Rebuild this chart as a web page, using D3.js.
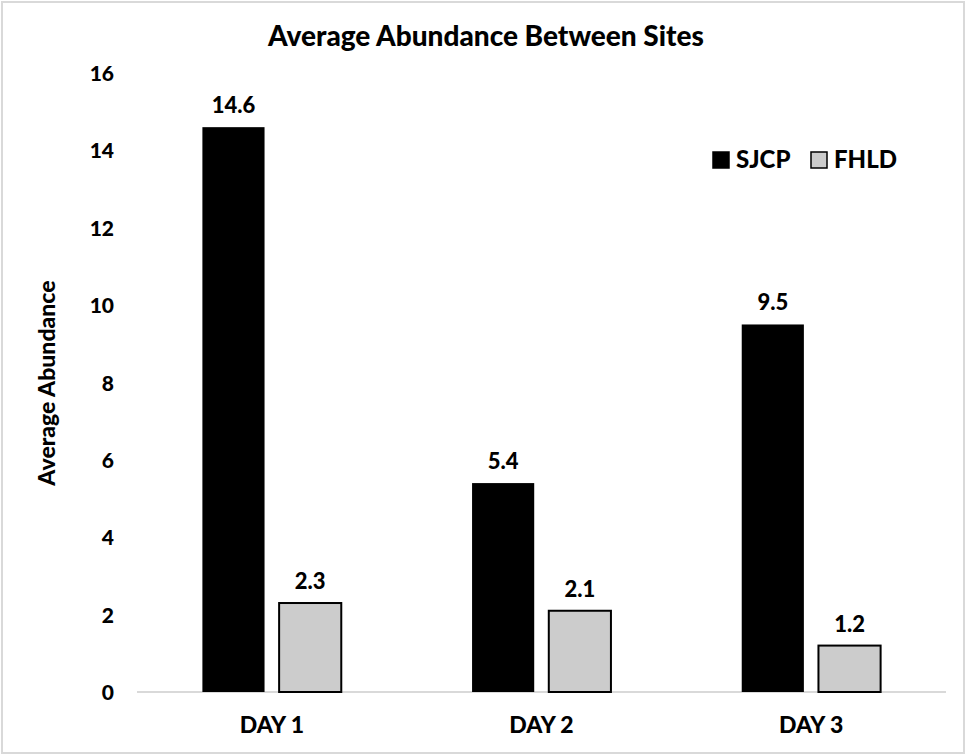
<!DOCTYPE html>
<html>
<head>
<meta charset="utf-8">
<script src="https://cdn.jsdelivr.net/npm/d3@7"></script>
<style>
  html, body { margin: 0; padding: 0; background: #fff; }
  svg text { font-family: Lato, "Open Sans", sans-serif; font-weight: 900; fill: #000; }
</style>
</head>
<body>
<svg id="chart" width="966" height="755"></svg>
<script>
// Average abundance per day at each site
const days = ["DAY 1", "DAY 2", "DAY 3"];
const sites = ["SJCP", "FHLD"];
const sjcp = [14.6, 5.4, 9.5];
const fhld = [2.3, 2.1, 1.2];
const yTicks = [0, 2, 4, 6, 8, 10, 12, 14, 16];

const fills = { SJCP: "#000000", FHLD: "#cccccc" };
const values = { SJCP: sjcp, FHLD: fhld };
const FONT = "Lato, 'Open Sans', sans-serif";
const WEIGHT = "900";

const svg = d3.select("#chart");
const W = 966, H = 755;

// chart frame
svg.append("rect")
  .attr("x", 2).attr("y", 2).attr("width", W - 4).attr("height", H - 4)
  .attr("fill", "#fff").attr("stroke", "#d9d9d9").attr("stroke-width", 2);

const plot = { left: 137, right: 946, top: 73, bottom: 692 };

const x0 = d3.scaleBand().domain(days).range([plot.left, plot.right]).paddingInner(0.485).paddingOuter(0.2425);
const x1 = d3.scaleBand().domain(sites).range([0, x0.bandwidth()]).paddingInner(0.19);
const y = d3.scaleLinear().domain([0, 16]).range([plot.bottom, plot.top]);

// title
svg.append("text")
  .attr("x", 486).attr("y", 46)
  .attr("text-anchor", "middle")
  .style("font-size", "28px")
  .text("Average Abundance Between Sites");

// y axis labels
const yAxis = d3.axisLeft(y).tickValues(yTicks).tickFormat(d3.format("d")).tickSize(0).tickPadding(0);
const gy = svg.append("g").attr("transform", `translate(114,0)`).call(yAxis);
gy.select(".domain").remove();
gy.selectAll("text")
  .attr("dy", "0.36em")
  .style("font-size", "21px")
  .style("font-family", FONT)
  .style("font-weight", WEIGHT)
  .attr("fill", "#000");

// x axis baseline and labels
const xAxis = d3.axisBottom(x0).tickSize(0).tickPadding(0);
const gx = svg.append("g").attr("transform", `translate(0,${plot.bottom})`).call(xAxis);
gx.select(".domain").attr("stroke", "#d9d9d9").attr("stroke-width", 2)
  .attr("d", `M${plot.left},0H${plot.right}`);
gx.selectAll("text")
  .attr("y", 41).attr("dy", 0)
  .style("font-size", "23px")
  .style("font-family", FONT)
  .style("font-weight", WEIGHT)
  .attr("fill", "#000");

// y axis title
svg.append("text")
  .attr("transform", `translate(55,383) rotate(-90)`)
  .attr("text-anchor", "middle")
  .style("font-size", "23px")
  .text("Average Abundance");

// bars
const groups = svg.append("g").selectAll("g")
  .data(days.map((d, i) => ({ day: d, i })))
  .join("g")
  .attr("transform", d => `translate(${x0(d.day)},0)`);

groups.selectAll("rect")
  .data(d => sites.map(s => ({ site: s, value: values[s][d.i] })))
  .join("rect")
  .attr("x", d => x1(d.site))
  .attr("y", d => y(d.value))
  .attr("width", x1.bandwidth())
  .attr("height", d => y(0) - y(d.value))
  .attr("fill", d => fills[d.site])
  .attr("stroke", "#000")
  .attr("stroke-width", d => d.site === "FHLD" ? 2 : 0);

groups.selectAll("text.val")
  .data(d => sites.map(s => ({ site: s, value: values[s][d.i] })))
  .join("text")
  .attr("class", "val")
  .attr("x", d => x1(d.site) + x1.bandwidth() / 2)
  .attr("y", d => y(d.value) - 14)
  .attr("text-anchor", "middle")
  .style("font-size", "22px")
  .text(d => d3.format(".1f")(d.value));

// legend
const legend = svg.append("g");
const legendItems = [
  { site: "SJCP", x: 712 },
  { site: "FHLD", x: 810 }
];
legendItems.forEach(it => {
  legend.append("rect")
    .attr("x", it.x + 1).attr("y", 152)
    .attr("width", 16).attr("height", 16)
    .attr("fill", fills[it.site])
    .attr("stroke", "#000").attr("stroke-width", 1.5);
  legend.append("text")
    .attr("x", it.x + 24).attr("y", 168)
    .style("font-size", "24px")
    .text(it.site);
});
</script>
</body>
</html>
